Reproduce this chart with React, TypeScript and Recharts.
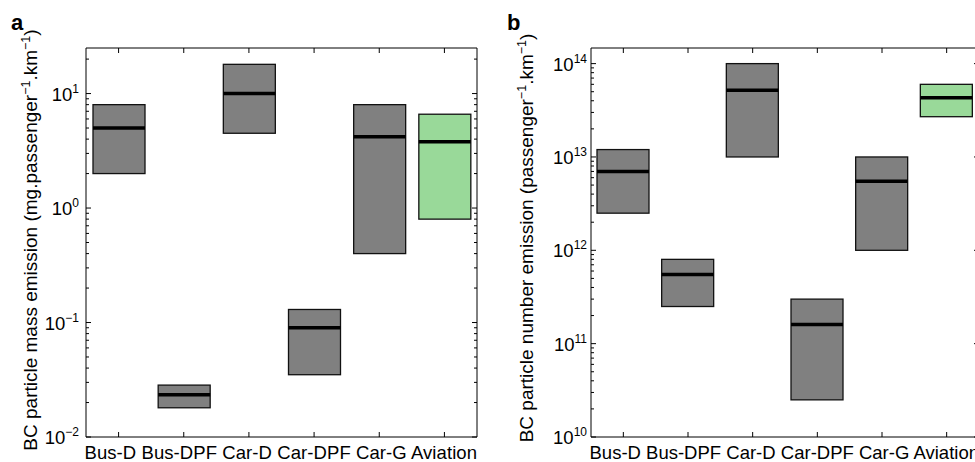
import React from "react";
import { ComposedChart, Bar, XAxis, YAxis, Cell } from "recharts";

// categories and box values (low / median / high)
const categories = ["Bus-D", "Bus-DPF", "Car-D", "Car-DPF", "Car-G", "Aviation"];

const massLow = [2.0, 0.018, 4.5, 0.035, 0.4, 0.8];
const massMedian = [5.0, 0.0234, 10, 0.09, 4.2, 3.8];
const massHigh = [8.0, 0.0284, 18, 0.13, 8.0, 6.6];
const massDomain = [0.01, 25];

const numberLow = [2.5e12, 2.5e11, 1e13, 2.5e10, 1e12, 2.7e13];
const numberMedian = [7e12, 5.5e11, 5.2e13, 1.6e11, 5.5e12, 4.3e13];
const numberHigh = [1.2e13, 8e11, 1e14, 3e11, 1e13, 6e13];
const numberDomain = [1e10, 1.47e14];

const FONT = '"Liberation Sans", Arial, Helvetica, sans-serif';
const GRAY = "#808080";
const GREEN = "#99d999";

const buildRows = (low: number[], med: number[], high: number[]) =>
  categories.map((name, i) => ({
    name,
    low: low[i],
    median: med[i],
    high: high[i],
    range: [low[i], high[i]],
  }));

const massRows = buildRows(massLow, massMedian, massHigh);
const numberRows = buildRows(numberLow, numberMedian, numberHigh);

// 1..9 x 10^k inside the domain, majors get labels
function logTicks(lo: number, hi: number) {
  const out: number[] = [];
  for (let d = Math.floor(Math.log10(lo)); d <= Math.ceil(Math.log10(hi)); d++) {
    for (let m = 1; m <= 9; m++) {
      const v = m * Math.pow(10, d);
      if (v >= lo * 0.999 && v <= hi * 1.001) out.push(v);
    }
  }
  return out;
}

const isMajor = (v: number) => {
  const l = Math.log10(v);
  return Math.abs(l - Math.round(l)) < 1e-9;
};

const expText = (v: number) => {
  const e = Math.round(Math.log10(v));
  return e < 0 ? "\u2212" + Math.abs(e) : String(e);
};

const BoxShape = (props: any) => {
  const { x, y, width, height, payload, fill } = props;
  const top = Math.min(y, y + height);
  const h = Math.abs(height);
  const { low, median, high } = payload;
  const t = (Math.log10(high) - Math.log10(median)) / (Math.log10(high) - Math.log10(low));
  const my = top + h * t;
  return (
    <g>
      <rect x={x} y={top} width={width} height={h} fill={fill} stroke="#111" strokeWidth={1.3} />
      <line x1={x} x2={x + width} y1={my} y2={my} stroke="#000" strokeWidth={3.5} />
    </g>
  );
};

const LeftTick = (props: any) => {
  const { x, y, payload, gap } = props;
  const v = payload.value;
  const major = isMajor(v);
  return (
    <g>
      <line x1={x} x2={x + (major ? 5 : 3)} y1={y} y2={y} stroke="#000" strokeWidth={1} />
      {major && (
        <text x={x - gap} y={y + 7} textAnchor="end" fontSize={18.5} fontFamily={FONT} fill="#000">
          <tspan>10</tspan>
          <tspan dy={-8} fontSize={12}>{expText(v)}</tspan>
        </text>
      )}
    </g>
  );
};

const RightTick = (props: any) => {
  const { x, y, payload } = props;
  const major = isMajor(payload.value);
  return <line x1={x} x2={x - (major ? 5 : 3)} y1={y} y2={y} stroke="#000" strokeWidth={1} />;
};

// the category names sit as one run of text along the bottom, as in the original figure
const BottomTick = (props: any) => {
  const { x, y, index, width, visibleTicksCount } = props;
  const w = width || 390;
  const band = w / (visibleTicksCount || categories.length);
  const start = x - band * (index + 0.5) - 1.5;
  return (
    <g>
      <line x1={x} x2={x} y1={y} y2={y - 5} stroke="#000" strokeWidth={1} />
      {index === 0 && (
        <text
          x={start}
          y={y + 22}
          textAnchor="start"
          fontSize={18.5}
          fontFamily={FONT}
          fill="#000"
          textLength={w + 1.5}
          lengthAdjust="spacing"
        >
          {categories.join(" ")}
        </text>
      )}
    </g>
  );
};

const TopTick = (props: any) => {
  const { x, y } = props;
  return <line x1={x} x2={x} y1={y} y2={y + 5} stroke="#000" strokeWidth={1} />;
};

interface PanelProps {
  rows: any[];
  domain: number[];
  width: number;
  yWidth: number;
  rightMargin: number;
  gap: number;
}

const Panel = ({ rows, domain, width, yWidth, rightMargin, gap }: PanelProps) => {
  const ticks = logTicks(domain[0], domain[1]);
  const axisLine = { stroke: "#000", strokeWidth: 1 };
  return (
    <ComposedChart
      width={width}
      height={462}
      data={rows}
      margin={{ top: 47, right: rightMargin, bottom: 0, left: 0 }}
    >
      <XAxis
        xAxisId="b"
        dataKey="name"
        height={25}
        interval={0}
        tickSize={0}
        tickMargin={0}
        axisLine={axisLine}
        tick={(p: any) => <BottomTick {...p} />}
      />
      <XAxis
        xAxisId="t"
        dataKey="name"
        orientation="top"
        height={1}
        interval={0}
        tickSize={0}
        tickMargin={0}
        axisLine={axisLine}
        tick={(p: any) => <TopTick {...p} />}
      />
      <YAxis
        yAxisId="l"
        scale="log"
        domain={domain}
        allowDataOverflow
        ticks={ticks}
        interval={0}
        width={yWidth}
        tickSize={0}
        tickMargin={0}
        axisLine={axisLine}
        tick={(p: any) => <LeftTick {...p} gap={gap} />}
      />
      <YAxis
        yAxisId="r"
        orientation="right"
        scale="log"
        domain={domain}
        allowDataOverflow
        ticks={ticks}
        interval={0}
        width={1}
        tickSize={0}
        tickMargin={0}
        axisLine={axisLine}
        tick={(p: any) => <RightTick {...p} />}
      />
      <Bar
        xAxisId="b"
        yAxisId="l"
        dataKey="range"
        barSize={52}
        shape={BoxShape}
        isAnimationActive={false}
      >
        {rows.map((r) => (
          <Cell key={r.name} fill={r.name === "Aviation" ? GREEN : GRAY} />
        ))}
      </Bar>
    </ComposedChart>
  );
};

export default function App() {
  return (
    <div
      style={{
        position: "absolute",
        left: 0,
        top: 0,
        width: 975,
        height: 462,
        overflow: "hidden",
        background: "#fff",
      }}
    >
      <div style={{ position: "absolute", left: 0, top: 0 }}>
        <Panel rows={massRows} domain={massDomain} width={490} yWidth={86} rightMargin={12} gap={7} />
      </div>
      <div style={{ position: "absolute", left: 490, top: 0 }}>
        <Panel rows={numberRows} domain={numberDomain} width={490} yWidth={101} rightMargin={0} gap={4} />
      </div>
      <svg
        width={975}
        height={462}
        style={{ position: "absolute", left: 0, top: 0, pointerEvents: "none" }}
        fontFamily={FONT}
      >
        <text x={11} y={30} fontSize={22} fontWeight="bold">a</text>
        <text x={507} y={30} fontSize={22} fontWeight="bold">b</text>
        <text transform="translate(37,240) rotate(-90)" textAnchor="middle" fontSize={19}>
          <tspan>BC particle mass emission (mg.passenger</tspan>
          <tspan dy={-7} fontSize={12.5}>{"\u22121"}</tspan>
          <tspan dy={7}>.km</tspan>
          <tspan dy={-7} fontSize={12.5}>{"\u22121"}</tspan>
          <tspan dy={7}>)</tspan>
        </text>
        <text transform="translate(533,238) rotate(-90)" textAnchor="middle" fontSize={19}>
          <tspan>BC particle number emission (passenger</tspan>
          <tspan dy={-7} fontSize={12.5}>{"\u22121"}</tspan>
          <tspan dy={7}>.km</tspan>
          <tspan dy={-7} fontSize={12.5}>{"\u22121"}</tspan>
          <tspan dy={7}>)</tspan>
        </text>
      </svg>
    </div>
  );
}
